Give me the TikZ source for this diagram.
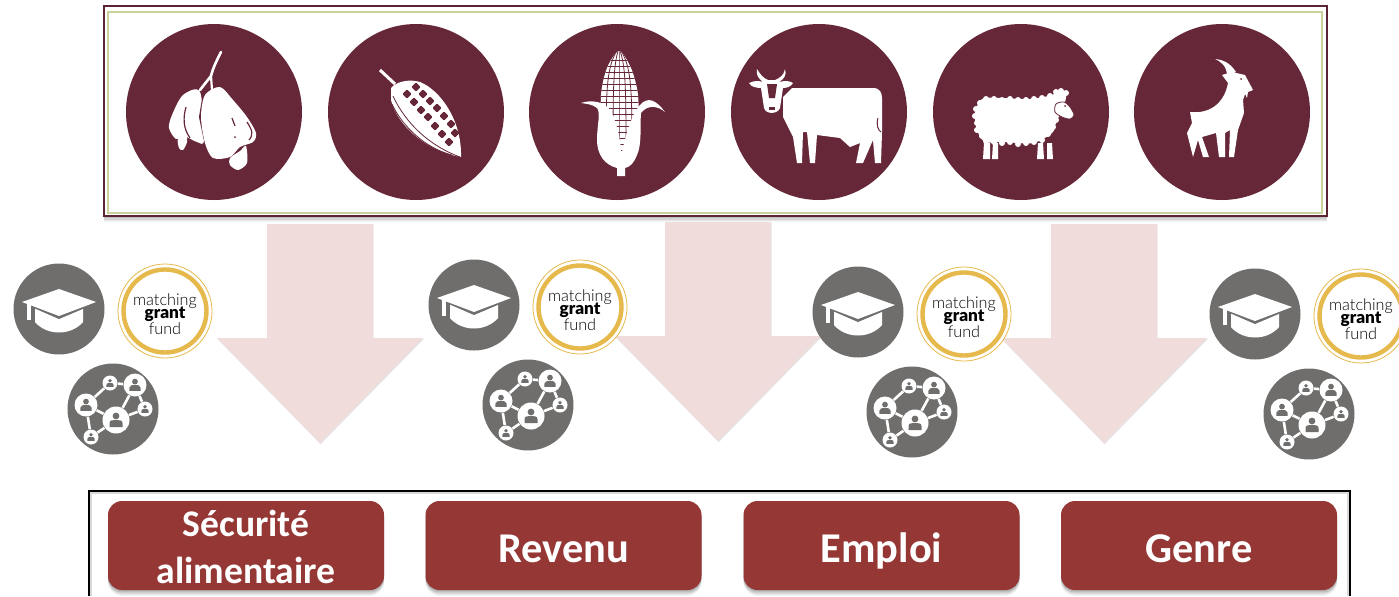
\documentclass[tikz,border=0pt]{standalone}
\usepackage{fontspec}
\setmainfont{Carlito}
\newfontfamily\mgfont[UprightFont={* Light},BoldFont={* Black}]{Lato}
\usetikzlibrary{shadows}
\usetikzlibrary{positioning}
\definecolor{crop}{HTML}{662839}
\definecolor{icongrey}{HTML}{6F6E6D}
\definecolor{gold}{HTML}{E5B94C}
\definecolor{outcome}{HTML}{953735}
\definecolor{arrowpink}{HTML}{F0DCDB}
\definecolor{olive}{HTML}{C9D29B}
\tikzset{
  softshadow/.style={
    general shadow={shadow xshift=0pt,shadow yshift=-.6pt,opacity=.09,fill=black},
    general shadow={shadow xshift=0pt,shadow yshift=-1.2pt,opacity=.09,fill=black},
    general shadow={shadow xshift=0pt,shadow yshift=-1.8pt,opacity=.08,fill=black},
    general shadow={shadow xshift=0pt,shadow yshift=-2.4pt,opacity=.06,fill=black},
    general shadow={shadow xshift=0pt,shadow yshift=-3pt,opacity=.04,fill=black}},
  cropdisc/.style={circle,minimum size=88pt,inner sep=0pt,fill=crop},
  greydisc/.style={circle,minimum size=45.5pt,inner sep=0pt,fill=icongrey},
  outbox/.style={minimum width=138pt,minimum height=44.5pt,inner sep=0pt,rounded corners=7pt,fill=outcome,
    text=white,align=center,softshadow},
  bigarrow/.style={fill=arrowpink,drop shadow={shadow xshift=.3pt,shadow yshift=-.6pt,opacity=.1,fill=black}},
  netnode/.style={circle,inner sep=0pt,fill=white},
  person/.pic={
    \fill[icongrey] (0,-4) circle (3.4);
    \fill[icongrey] (-6.5,7) -- (-6.5,3) .. controls (-6.5,0) and (-3,0) .. (0,0) .. controls (3,0) and (6.5,0) .. (6.5,3) -- (6.5,7) -- cycle;
  },
  capicon/.pic={
    \fill[white] (-24,-4) -- (24,-4) -- (24,13) .. controls (12,27) and (-12,27) .. (-24,13) -- cycle;
    \fill[icongrey] (-39,-7) -- (0,-22) -- (40,-7) -- (0,10) -- cycle;
    \fill[white] (-37,-7) -- (0,-20) -- (37,-7) -- (0,7) -- cycle;
    \fill[white] (-32,-6) rectangle (-28,11);
  },
  neticon/.pic={
    \node[netnode,minimum size=13.5pt] (n1) at (3,11) {};
    \node[netnode,minimum size=11.5pt] (n2) at (-27,-4) {};
    \node[netnode,minimum size=11.5pt] (n3) at (22,-24) {};
    \node[netnode,minimum size=7.5pt] (n4) at (-3,-26) {};
    \node[netnode,minimum size=7.5pt] (n5) at (32,0) {};
    \node[netnode,minimum size=7.5pt] (n6) at (-22,28) {};
    \draw[white,line width=1.3pt] (n2) -- (n4) -- (n3) -- (n5) -- (n1) -- (n2) -- (n6) -- (n1) -- (n3);
    \pic at (3,11) {person};
    \pic[scale=.85] at (-27,-4) {person};
    \pic[scale=.85] at (22,-24) {person};
    \pic[scale=.55] at (-3,-26) {person};
    \pic[scale=.55] at (32,0) {person};
    \pic[scale=.55] at (-22,28) {person};
  },
  mgficon/.pic={
    \draw[gold,line width=.4pt,fill=white] (0,0) circle (47);
    \draw[gold,line width=2.2pt] (0,0) circle (41.5);
    \node[anchor=base,inner sep=0pt,font=\mgfont\fontsize{8.1}{9}\selectfont] (mg1) at (0,-6) {matching};
    \node[anchor=base,inner sep=0pt,font=\mgfont\bfseries\fontsize{8.6}{9}\selectfont] (mg2) at (0,7) {grant};
    \node[anchor=base,inner sep=0pt,font=\mgfont\fontsize{8.1}{9}\selectfont] (mg3) at (0,23) {fund};
  }
}
\begin{document}
\begin{tikzpicture}[x=0.5pt,y=-0.5pt]
\useasboundingbox (0,0) rectangle (1399,596);

% crops and livestock
\draw[crop!90!black,line width=1pt,fill=white,softshadow] (104,6) rectangle (1327,216);
\draw[olive,line width=.6pt] (108,12) rectangle (1322,213);
\foreach \x/\xc in {1/214, 2/416, 3/617, 4/819, 5/1021, 6/1222} {
\node (crop\x) at (\xc,112) [cropdisc] {};
}

% cashew
\draw[white,line width=1.3pt,line cap=round] (221,52) .. controls (216,62) and (213,68) .. (211,76) -- (200,90);
\draw[white,line width=1.1pt] (211,76) -- (212,90);
\fill[white] plot[smooth cycle] coordinates {(200,92) (183,95) (172,115) (169,128) (176,139) (184,136) (197,142) (204,140)};
\fill[white] plot[smooth cycle] coordinates {(178,139) (186,134) (187,142) (183,150) (179,148)};
\draw[crop,line width=.6pt] (186,107) .. controls (183,118) and (183,128) .. (190,138);
\draw[crop,line width=1pt] (204,93) -- (200,117) -- (205,141);
\fill[white] plot[smooth cycle] coordinates {(205,95) (220,87) (233,100) (247,117) (256,133) (253,142) (240,147) (230,157) (213,158) (205,143) (201,117)};
\fill[white] plot[smooth cycle] coordinates {(230,158) (240,151) (246,146) (247,163) (238,170) (230,165)};
\draw[crop,line width=.6pt] (232,118) -- (235,126);
\fill[crop] (235,137) circle (1);
\draw[crop,line width=.6pt] (247,122) .. controls (252,130) and (254,134) .. (249,140);

% cocoa pod
\draw[white,line width=1.5pt] (380,70) -- (395,84);
\fill[white] (391,88) .. controls (397,81) and (410,79) .. (420,82) .. controls (440,90) and (462,120) .. (461,157) .. controls (430,152) and (398,128) .. (391,100) -- cycle;
\foreach \a/\b in {416/87, 423/94, 430/101, 437/108, 444/116, 451/124, 455/133, 407/94, 414/102, 421/110, 428/117, 435/126, 442/134, 449/142} {
\fill[crop,shift={(\a,\b)},rotate=45,rounded corners=.5pt] (-3.2,-3.2) rectangle (3.2,3.2);
}
\draw[crop,line width=.4pt] (393,96) .. controls (406,124) and (430,146) .. (460,157);
\draw[crop,line width=.4pt] (392,104) .. controls (402,126) and (425,148) .. (452,155);

% maize
\fill[white] plot[smooth cycle] coordinates {(619,51) (607,68) (601,95) (603,130) (620,158) (637,130) (638,95) (631,68)};
\begin{scope}
\clip plot[smooth cycle] coordinates {(619,51) (607,68) (601,95) (603,130) (620,158) (637,130) (638,95) (631,68)};
\foreach \y in {60,66,...,160} {
\draw[crop,line width=.4pt] (598,\y) -- (640,\y);
}
\foreach \x in {606,613,619,626,632} {
\draw[crop,line width=.4pt] (619,48) .. controls (\x,65) and (\x,90) .. (\x,160);
}
\end{scope}
\fill[white] (581,103) .. controls (590,100) and (605,100) .. (612,113) .. controls (617,125) and (621,140) .. (621,156) .. controls (626,135) and (631,115) .. (640,105) .. controls (648,96) and (656,100) .. (665,112) .. controls (658,106) and (648,104) .. (641,113) .. controls (640,125) and (642,145) .. (637,155) .. controls (634,163) and (630,167) .. (625,168) -- (625,176) -- (617,176) -- (617,168) .. controls (605,165) and (597,155) .. (597,140) .. controls (597,125) and (601,113) .. (597,108) .. controls (592,104) and (587,104) .. (581,103) -- cycle;

% cow
\fill[white] (792,88) -- (873,88) .. controls (880,88) and (882,93) .. (882,98) -- (882,133) -- (881,163) -- (875,163) -- (873,140) -- (863,163) -- (856,163) -- (860,143) -- (850,147) -- (840,138) -- (817,135) -- (815,163) -- (810,163) -- (807,132) -- (803,132) -- (802,163) -- (797,163) -- (793,137) -- (783,117) -- (783,97) -- cycle;
\draw[crop,line width=.5pt] (878,118) .. controls (876,125) and (878,130) .. (881,132);
\fill[white] (749,83) .. controls (755,80) and (760,81) .. (763,82) .. controls (758,78) and (756,75) .. (757,69) .. controls (760,74) and (763,78) .. (768,80) -- (775,80) .. controls (780,78) and (784,75) .. (785,69) .. controls (787,75) and (784,79) .. (779,82) .. controls (784,81) and (788,80) .. (793,83) .. controls (791,87) and (786,88) .. (783,88) -- (780,108) .. controls (778,114) and (766,115) .. (764,108) -- (761,88) .. controls (757,88) and (751,87) .. (749,83) -- cycle;
\fill[crop] (767,84) -- (777,84) -- (775,98) -- (769,98) -- cycle;
\fill[crop] (769,107) rectangle (775,110);

% sheep
\fill[white] plot[smooth cycle] coordinates {(975,113) (982,99) (1000,98) (1030,99) (1052,95) (1060,90) (1066,95) (1064,105) (1056,123) (1052,133) (1033,143) (1003,142) (985,142) (977,130)};
\foreach \a/\b in {980/103, 976/109, 975/116, 977/123, 977/130, 982/136, 986/141, 994/142, 1002/143, 1010/142, 1018/144, 1026/143, 1034/142, 1042/140, 1048/134, 1053/127, 1056/120, 986/99, 994/99, 1002/100, 1010/99, 1018/100, 1026/100, 1034/99, 1042/98, 1050/96, 1056/92, 1061/91, 1066/93} {
\fill[white] (\a,\b) circle (3);
}
\fill[white] (984,143) -- (990,143) -- (990,159) -- (983,159) -- cycle;
\fill[white] (993,143) -- (998,143) -- (998,159) -- (992,159) -- cycle;
\fill[white] (1038,143) -- (1043,143) -- (1044,159) -- (1037,159) -- cycle;
\fill[white] (1047,143) -- (1052,143) -- (1053,159) -- (1047,159) -- cycle;
\filldraw[white,draw=crop,line width=.4pt] plot[smooth cycle] coordinates {(1055,112) (1056,104) (1064,102) (1070,107) (1074,115) (1070,119) (1062,117)};
\fill[crop] (1065,106) circle (1);

% goat
\fill[white] (1215,59) .. controls (1224,60) and (1230,63) .. (1236,72) -- (1227,76) .. controls (1227,67) and (1222,62) .. (1215,59) -- cycle;
\fill[white] (1190,112) .. controls (1208,114) and (1224,105) .. (1228,83) -- (1222,75) -- (1232,72) -- (1245,75) -- (1253,90) -- (1248,92) -- (1247,98) -- (1245,94) -- (1243,100) -- (1244,113) -- (1238,130) -- (1234,157) -- (1229,157) -- (1230,130) -- (1225,133) -- (1225,157) -- (1219,157) -- (1216,133) -- (1202,137) -- (1209,157) -- (1203,157) -- (1198,140) -- (1193,157) -- (1187,133) -- (1192,123) -- cycle;
\fill[crop] (1241,79) circle (1);

% arrows
\foreach \x/\xl/\xr/\y in {320/267/373/224, 718/665/771/222, 1104/1051/1157/224} {
\fill[bigarrow] (\xl,\y) -- (\xr,\y) -- (\xr,\y+114) -- (\x+103,\y+114) -- (\x,\y+219) -- (\x-103,\y+114) -- (\xl,\y+114) -- cycle;
}

% knowledge, grant and network groups
\foreach \x/\xs/\ys in {1/0/0, 2/415/-4, 3/799/3, 4/1196/5} {
\node (cap\x) at (59+\xs,309+\ys) [greydisc] {};
\node (net\x) at (113+\xs,409+\ys) [greydisc] {};
\pic (capi\x) at (cap\x) {capicon};
\pic (neti\x) at (net\x) {neticon};
\pic (mgf\x) at (165+\xs,311+\ys) {mgficon};
}

% outcomes
\draw[black!15,line width=.8pt] (91,596) |- (1348,493) -- (1348,596);
\draw[black,line width=.8pt] (89,596) |- (1350,491) -- (1350,596);
\foreach \x/\xc/\yc/\an/\sz/\txt in {1/246/547/center/18.8/{Sécurité\\[.6pt]alimentaire}, 2/563.5/562/base/21.2/Revenu, 3/881.5/562/base/21.2/Emploi, 4/1199/562/base/21.2/Genre} {
\node (out\x) at (\xc,545.5) [outbox] {};
\node (lab\x) at (\xc,\yc) [anchor=\an,text=white,align=center,font=\fontsize{\sz}{22.5}\selectfont\bfseries,inner sep=0pt] {\txt};
}
\end{tikzpicture}
\end{document}
